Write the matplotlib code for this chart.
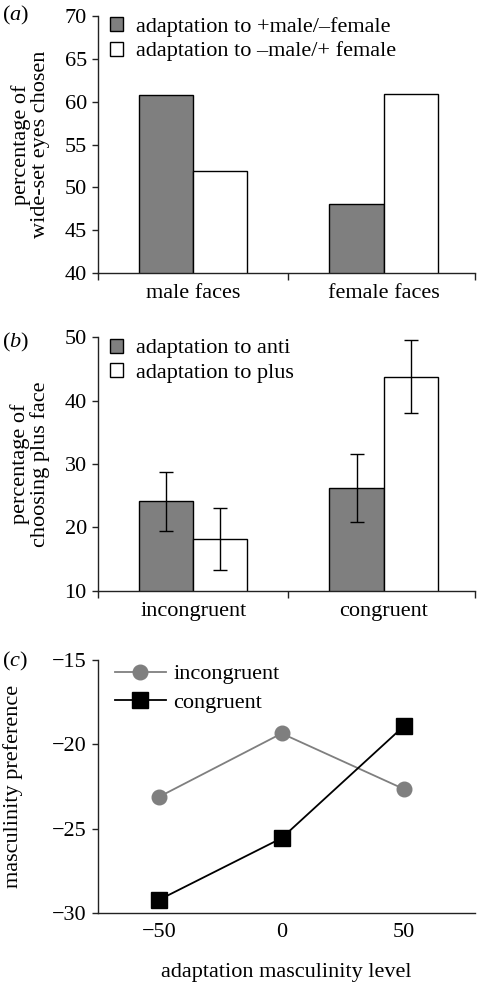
import matplotlib
matplotlib.use("Agg")
import matplotlib.pyplot as plt
import numpy as np

plt.rcParams['font.family'] = ['Liberation Serif', 'DejaVu Serif']
plt.rcParams['mathtext.fontset'] = 'custom'
plt.rcParams['mathtext.rm'] = 'Liberation Serif'
plt.rcParams['mathtext.it'] = 'Liberation Serif:italic'

# panel (a)
a_cats = ["male faces", "female faces"]
a_labels = ["adaptation to +male/\u2013female", "adaptation to \u2013male/+ female"]
a_plusmale = [60.8, 48.1]
a_minusmale = [51.9, 60.85]

# panel (b)
b_cats = ["incongruent", "congruent"]
b_labels = ["adaptation to anti", "adaptation to plus"]
b_anti = [24.1, 26.2]
b_anti_err = [4.6, 5.3]
b_plus = [18.2, 43.8]
b_plus_err = [4.9, 5.7]

# panel (c)
c_x = [-50, 0, 50]
c_incong = [-23.1, -19.35, -22.65]
c_cong = [-29.2, -25.55, -18.9]

GRAY = "#7f7f7f"
AX = "#222222"
FS = 16

fig = plt.figure(figsize=(4.8, 9.82), dpi=100)
L, R = 0.204, 0.990
ax_a = fig.add_axes([L, 0.722, R - L, 0.9837 - 0.722])
ax_b = fig.add_axes([L, 0.3985, R - L, 0.6565 - 0.3985])
ax_c = fig.add_axes([L, 0.070, R - L, 0.3279 - 0.070])


def style(ax):
    for s in ["top", "right"]:
        ax.spines[s].set_visible(False)
    for s in ["left", "bottom"]:
        ax.spines[s].set_color(AX)
        ax.spines[s].set_linewidth(1.0)
    ax.tick_params(axis="y", direction="out", length=4, width=1, color=AX,
                   labelsize=FS, pad=4)
    ax.tick_params(axis="x", labelsize=FS)


def bar_panel(ax, cats, v1, v2, e1=None, e2=None):
    x = np.arange(len(cats))
    w = 0.285
    ekw = dict(ecolor="black", elinewidth=1.0, capsize=5, capthick=1.0)
    ax.bar(x - w / 2, v1, w, color=GRAY, edgecolor="black", linewidth=1.0,
           yerr=e1, error_kw=ekw)
    ax.bar(x + w / 2, v2, w, color="white", edgecolor="black", linewidth=1.0,
           yerr=e2, error_kw=ekw)
    ax.set_xlim(-0.5, 1.48)
    ax.set_xticks(x)
    ax.set_xticklabels(cats)
    ax.tick_params(axis="x", which="major", length=0, pad=8)
    ax.set_xticks([-0.5, 0.5, 1.48], minor=True)
    ax.tick_params(axis="x", which="minor", direction="out", length=5, width=1, color=AX)
    style(ax)


leg_kw = dict(loc="upper left", frameon=False, fontsize=FS, handlelength=0.6,
              handleheight=0.6, handletextpad=0.6, labelspacing=0.2, borderaxespad=0)

bar_panel(ax_a, a_cats, a_plusmale, a_minusmale)
ax_a.set_ylim(40, 70)
ax_a.set_yticks(range(40, 71, 5))
ax_a.set_ylabel("percentage of\nwide-set eyes chosen", fontsize=FS, linespacing=1.0)
ax_a.yaxis.set_label_coords(-0.127, 0.5)
ax_a.legend(a_labels, bbox_to_anchor=(0.008, 1.03), **leg_kw)

bar_panel(ax_b, b_cats, b_anti, b_plus, b_anti_err, b_plus_err)
ax_b.set_ylim(10, 50)
ax_b.set_yticks(range(10, 51, 10))
ax_b.set_ylabel("percentage of\nchoosing plus face", fontsize=FS, linespacing=1.0)
ax_b.yaxis.set_label_coords(-0.127, 0.5)
ax_b.legend(b_labels, bbox_to_anchor=(0.008, 1.03), **leg_kw)

ax_c.plot(c_x, c_incong, color=GRAY, marker="o", markersize=10.5, linewidth=1.3,
          label="incongruent")
ax_c.plot(c_x, c_cong, color="black", marker="s", markersize=12, linewidth=1.3,
          label="congruent")
ax_c.set_xlim(-75, 79)
ax_c.set_ylim(-30, -15)
ax_c.set_xticks(c_x)
ax_c.set_xticklabels(["\u221250", "0", "50"])
ax_c.set_yticks([-30, -25, -20, -15])
ax_c.set_yticklabels(["\u221230", "\u221225", "\u221220", "\u221215"])
style(ax_c)
ax_c.tick_params(axis="x", length=0, pad=7)
ax_c.set_ylabel("masculinity preference", fontsize=FS)
ax_c.yaxis.set_label_coords(-0.199, 0.5)
ax_c.set_xlabel("adaptation masculinity level", fontsize=FS, labelpad=15)
ax_c.legend(loc="upper left", bbox_to_anchor=(0.021, 1.02), frameon=False, fontsize=FS,
            handlelength=2.3, handletextpad=0.35, labelspacing=0.35, borderaxespad=0)

for lab, y in [("a", 0.984), ("b", 0.651), ("c", 0.326)]:
    fig.text(0.004, y, "($\\it{%s}$)" % lab, fontsize=FS, va="center", ha="left")

fig.savefig("out.png", dpi=100)
